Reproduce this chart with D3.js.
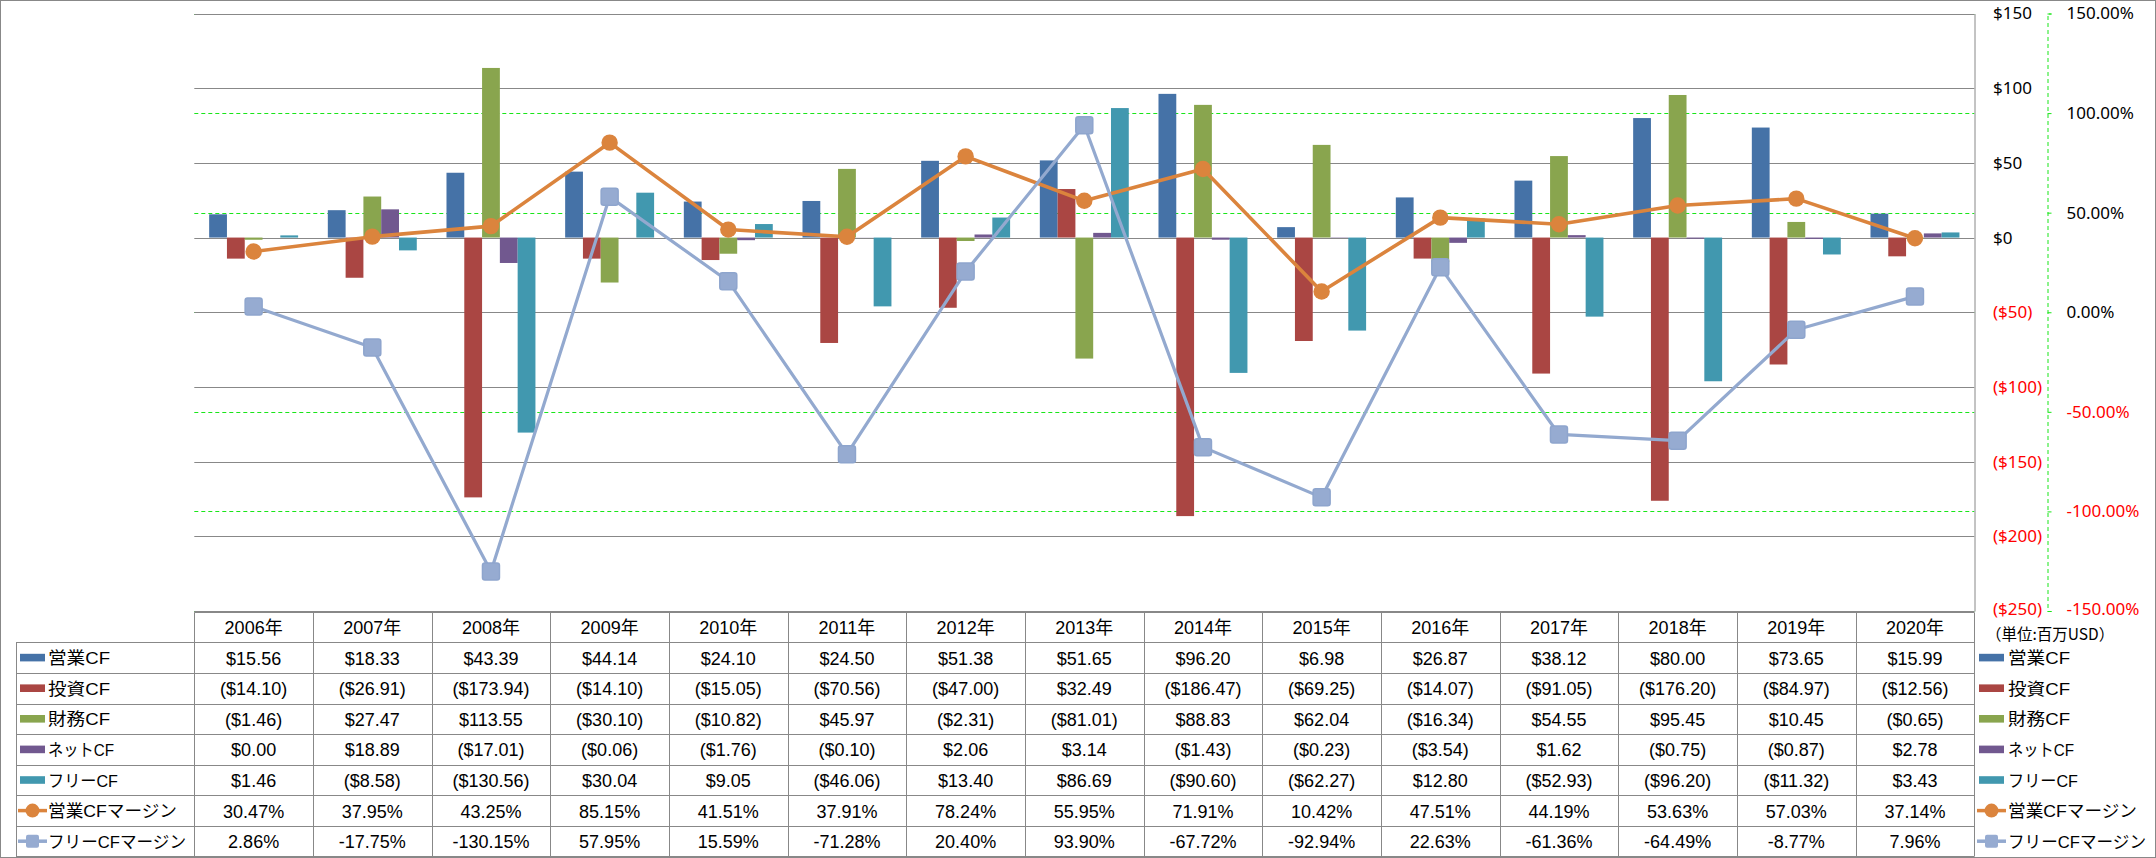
<!DOCTYPE html>
<html><head><meta charset="utf-8">
<script src="https://cdn.jsdelivr.net/npm/d3@7"></script>
<style>html,body{margin:0;padding:0;background:#fff;overflow:hidden}</style>
</head><body>
<svg id="c" width="2156" height="858" xmlns="http://www.w3.org/2000/svg"></svg>
<script>
// ---- data ----
const years = ["2006年","2007年","2008年","2009年","2010年","2011年","2012年","2013年","2014年","2015年","2016年","2017年","2018年","2019年","2020年"];
const opCF   = [15.56, 18.33, 43.39, 44.14, 24.10, 24.50, 51.38, 51.65, 96.20, 6.98, 26.87, 38.12, 80.00, 73.65, 15.99];
const invCF  = [-14.10, -26.91, -173.94, -14.10, -15.05, -70.56, -47.00, 32.49, -186.47, -69.25, -14.07, -91.05, -176.20, -84.97, -12.56];
const finCF  = [-1.46, 27.47, 113.55, -30.10, -10.82, 45.97, -2.31, -81.01, 88.83, 62.04, -16.34, 54.55, 95.45, 10.45, -0.65];
const netCF  = [0.00, 18.89, -17.01, -0.06, -1.76, -0.10, 2.06, 3.14, -1.43, -0.23, -3.54, 1.62, -0.75, -0.87, 2.78];
const freeCF = [1.46, -8.58, -130.56, 30.04, 9.05, -46.06, 13.40, 86.69, -90.60, -62.27, 12.80, -52.93, -96.20, -11.32, 3.43];
const opMargin   = [30.47, 37.95, 43.25, 85.15, 41.51, 37.91, 78.24, 55.95, 71.91, 10.42, 47.51, 44.19, 53.63, 57.03, 37.14];
const freeMargin = [2.86, -17.75, -130.15, 57.95, 15.59, -71.28, 20.40, 93.90, -67.72, -92.94, 22.63, -61.36, -64.49, -8.77, 7.96];
const barNames  = ["営業CF","投資CF","財務CF","ネットCF","フリーCF"];
const lineNames = ["営業CFマージン","フリーCFマージン"];
const barColors  = ["#4572A7","#AA4643","#89A54E","#71588F","#4198AF"];
const lineColors = ["#DB843D","#93A9CF"];
const primaryTicks   = [150,100,50,0,-50,-100,-150,-200,-250];
const secondaryTicks = [150,100,50,0,-50,-100,-150];
const unitLabel = "（単位:百万USD）";

// ---- layout ----
const svg = d3.select("#c");
const X0 = 194.3, X1 = 1974.3, YB = 611, YT = 13.5;
const TBL_TOP = 611.7, ROW_H = 30.6, TBL_LEFT = 16;
const GRID = "#888888", GREEN = "#19e619";
const numFont = "'Liberation Sans', Arial, 'Noto Sans CJK JP', sans-serif";
const axFont = "'Noto Sans', 'Liberation Sans', sans-serif";
const labelWidths = [62, 62, 62, 66, 70, 129, 138]; // rendered widths of legend labels

const x = d3.scaleBand().domain(years).range([X0, X1]);
const band = x.bandwidth();
const bw = band / 6.67;
const xs = d3.scaleBand().domain(barNames).range([0, bw * 5]);
const gOff = (band - bw * 5) / 2;
const y  = d3.scaleLinear().domain([-250, 150]).range([YB, YT]);
const y2 = d3.scaleLinear().domain([-150, 150]).range([YB, YT]);

const fmtMoney = (v, d) => v < 0 ? "($" + (-v).toFixed(d) + ")" : "$" + v.toFixed(d);
const fmtPct = v => v.toFixed(2) + "%";
const px = v => Math.round(v) + 0.5;

// outer border
svg.append("rect").attr("x", 0.5).attr("y", 0.5).attr("width", 2155).attr("height", 857)
  .attr("fill", "#fff").attr("stroke", GRID).attr("stroke-width", 1);

// green dashed secondary gridlines
svg.append("g").selectAll("line").data(secondaryTicks).join("line")
  .attr("x1", X0).attr("x2", X1)
  .attr("y1", d => px(y2(d))).attr("y2", d => px(y2(d)))
  .attr("stroke", GREEN).attr("stroke-width", 1).attr("stroke-dasharray", "4,3");

// gray primary gridlines
svg.append("g").selectAll("line").data(primaryTicks).join("line")
  .attr("x1", X0).attr("x2", X1)
  .attr("y1", d => px(y(d))).attr("y2", d => px(y(d)))
  .attr("stroke", GRID).attr("stroke-width", 1);

// bars
const barSeries = [opCF, invCF, finCF, netCF, freeCF];
barSeries.forEach((vals, si) => {
  svg.append("g").attr("fill", barColors[si]).selectAll("rect").data(vals).join("rect")
    .attr("x", (v, i) => x(years[i]) + gOff + xs(barNames[si]))
    .attr("width", xs.bandwidth())
    .attr("y", v => Math.min(y(v), y(0)))
    .attr("height", v => Math.abs(y(v) - y(0)));
});

// lines
const lineSeries = [opMargin, freeMargin];
const cx = i => x(years[i]) + band / 2;
lineSeries.forEach((vals, li) => {
  const line = d3.line().x((v, i) => cx(i)).y(v => y2(v));
  svg.append("path").datum(vals).attr("d", line).attr("fill", "none")
    .attr("stroke", lineColors[li]).attr("stroke-width", li === 0 ? 3.6 : 3.2)
    .attr("stroke-linejoin", "round");
  const g = svg.append("g");
  if (li === 0) {
    g.selectAll("circle").data(vals).join("circle")
      .attr("cx", (v, i) => cx(i)).attr("cy", v => y2(v)).attr("r", 8.2)
      .attr("fill", lineColors[0]);
  } else {
    g.selectAll("rect").data(vals).join("rect")
      .attr("x", (v, i) => cx(i) - 8.5).attr("y", v => y2(v) - 8.5)
      .attr("width", 17).attr("height", 17).attr("rx", 2.5)
      .attr("fill", "#96ABD1").attr("stroke", "#8EA5CD").attr("stroke-width", 1.5);
  }
});

// primary axis (right side)
const axP = svg.append("g").attr("transform", `translate(${px(X1)},0)`)
  .call(d3.axisRight(y).tickValues(primaryTicks).tickFormat(v => fmtMoney(v, 0))
    .tickSizeInner(0).tickSizeOuter(0).tickPadding(18.5));
axP.select(".domain").attr("stroke", GRID);
axP.selectAll("text").attr("font-family", axFont).attr("font-size", 17)
  .attr("fill", d => d < 0 ? "#ff0000" : "#000");
axP.selectAll(".tick").filter(d => d === -250).select("text").attr("dy", "0.2em");

// secondary axis
const axS = svg.append("g").attr("transform", `translate(2047.5,0)`)
  .call(d3.axisRight(y2).tickValues(secondaryTicks).tickFormat(fmtPct)
    .tickSizeInner(4).tickSizeOuter(4).tickPadding(15));
axS.select(".domain").attr("stroke", GREEN).attr("stroke-dasharray", "4,3");
axS.selectAll(".tick line").attr("stroke", GREEN);
axS.selectAll("text").attr("font-family", axFont).attr("font-size", 17)
  .attr("fill", d => d < 0 ? "#ff0000" : "#000");
axS.selectAll(".tick").filter(d => d === -150).select("text").attr("dy", "0.2em");

// ---- data table ----
const TB = svg.append("g");
const rowY = r => TBL_TOP + ROW_H * r;
const TBL_BOTTOM = rowY(8) - 0.8;
TB.append("line").attr("x1", X0).attr("x2", X1).attr("y1", px(rowY(0))).attr("y2", px(rowY(0)))
  .attr("stroke", GRID);
TB.selectAll("line.h").data(d3.range(1, 9)).join("line").attr("class", "h")
  .attr("x1", TBL_LEFT).attr("x2", X1)
  .attr("y1", r => px(r === 8 ? TBL_BOTTOM : rowY(r))).attr("y2", r => px(r === 8 ? TBL_BOTTOM : rowY(r)))
  .attr("stroke", GRID);
TB.selectAll("line.v").data(d3.range(0, years.length + 1)).join("line").attr("class", "v")
  .attr("x1", i => px(X0 + band * i)).attr("x2", i => px(X0 + band * i))
  .attr("y1", px(rowY(0))).attr("y2", px(TBL_BOTTOM))
  .attr("stroke", GRID);
TB.append("line").attr("x1", px(TBL_LEFT)).attr("x2", px(TBL_LEFT))
  .attr("y1", px(rowY(1))).attr("y2", px(TBL_BOTTOM)).attr("stroke", GRID);

const textAt = (g, tx, ty, s, anchor, size, family) => g.append("text")
  .attr("x", tx).attr("y", ty).attr("text-anchor", anchor || "middle")
  .attr("dominant-baseline", "central").attr("font-family", family || numFont)
  .attr("font-size", size || 18).attr("fill", "#000").text(s);

years.forEach((yr, i) => textAt(TB, x(yr) + band / 2, rowY(0.5) + 1, yr));
const tableRows = [
  {vals: opCF, f: v => fmtMoney(v, 2)},
  {vals: invCF, f: v => fmtMoney(v, 2)},
  {vals: finCF, f: v => fmtMoney(v, 2)},
  {vals: netCF, f: v => fmtMoney(v, 2)},
  {vals: freeCF, f: v => fmtMoney(v, 2)},
  {vals: opMargin, f: fmtPct},
  {vals: freeMargin, f: fmtPct}
];
tableRows.forEach((row, r) => {
  row.vals.forEach((v, i) => textAt(TB, x(years[i]) + band / 2, rowY(r + 1.5) + 1, row.f(v)));
});

const allNames = barNames.concat(lineNames);
function legendKey(g, kx, ky, idx) {
  if (idx < 5) {
    g.append("rect").attr("x", kx).attr("y", ky - 3.8).attr("width", 25).attr("height", 7.6)
      .attr("fill", barColors[idx]);
  } else {
    const c = lineColors[idx - 5];
    g.append("line").attr("x1", kx - 2).attr("x2", kx + 27).attr("y1", ky).attr("y2", ky)
      .attr("stroke", c).attr("stroke-width", 3.5);
    if (idx === 5) {
      g.append("circle").attr("cx", kx + 12.5).attr("cy", ky).attr("r", 7).attr("fill", c);
    } else {
      g.append("rect").attr("x", kx + 6).attr("y", ky - 6.5).attr("width", 13).attr("height", 13)
        .attr("rx", 2).attr("fill", "#96ABD1");
    }
  }
}
allNames.forEach((nm, k) => {
  const cy = rowY(k + 1.5);
  legendKey(TB, 20, cy, k);
  textAt(TB, 48, cy + 1, nm, "start", 17)
    .attr("textLength", labelWidths[k]).attr("lengthAdjust", "spacingAndGlyphs");
  legendKey(TB, 1979, cy, k);
  textAt(TB, 2008, cy + 1, nm, "start", 17)
    .attr("textLength", labelWidths[k]).attr("lengthAdjust", "spacingAndGlyphs");
});
textAt(TB, 1986, 633, unitLabel, "start", 15.5, "'Noto Sans CJK JP', sans-serif");
</script>
</body></html>
